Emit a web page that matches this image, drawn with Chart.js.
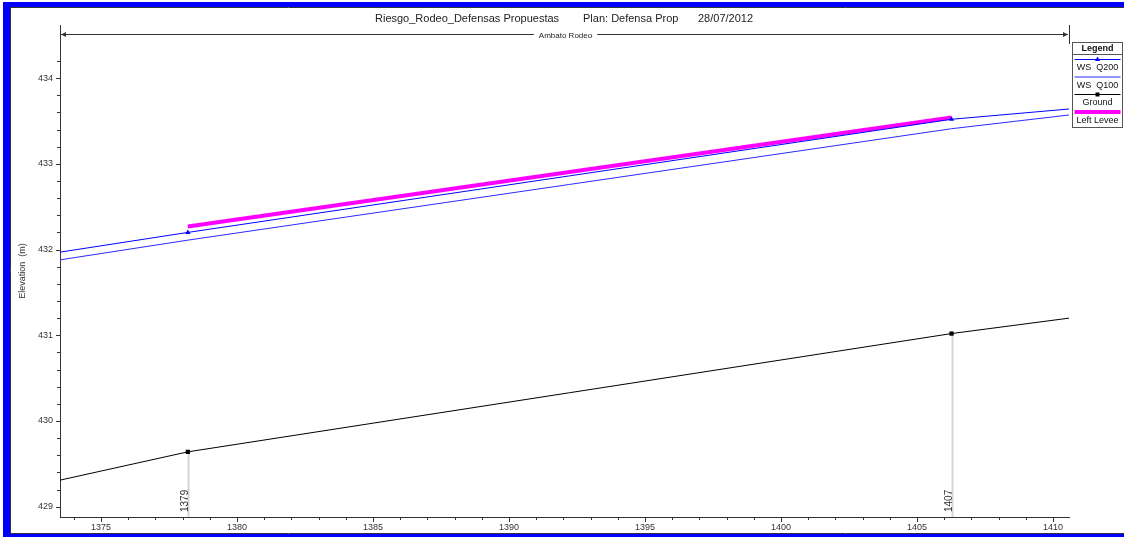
<!DOCTYPE html>
<html>
<head>
<meta charset="utf-8">
<title>Riesgo_Rodeo profile</title>
<script src="https://cdn.jsdelivr.net/npm/chart.js@4.4.0/dist/chart.umd.min.js"></script>
<style>
    html, body { margin: 0; padding: 0; background: #fff; }
    #wrap { position: relative; width: 1124px; height: 537px; }
</style>
</head>
<body>
<div id="wrap"><canvas id="profileChart" width="1124" height="537"></canvas></div>
<script>
// Profile data: main channel distance (m) vs elevation (m)
const stations = [1373.49, 1378.19, 1406.27, 1410.59];
const wsQ200 = [431.97, 432.20, 433.52, 433.64];
const wsQ100 = [431.88, 432.11, 433.41, 433.57];
const ground = [429.31, 429.64, 431.02, 431.20];
const leveeStations = [1378.19, 1406.27];
const leftLevee = [432.27, 433.54];

// Cross sections drawn in the profile (index into stations) and their river stations
const xsIndex = [1, 2];
const xsLabels = ['1379', '1407'];

// Axis ticks
const xMajorTicks = [1375, 1380, 1385, 1390, 1395, 1400, 1405, 1410];
const yMajorTicks = [429, 430, 431, 432, 433, 434];
const xRange = [1373.49, 1410.59];
const yRange = [428.88, 434.62];

const titleParts = ['Riesgo_Rodeo_Defensas Propuestas', 'Plan: Defensa Prop', '28/07/2012'];
const reachName = 'Ambato Rodeo';

const FONT = '"Liberation Sans", Arial, sans-serif';
const INK = '#333';

function toXY(xs, ys) {
    return xs.map((x, i) => ({ x: x, y: ys[i] }));
}

function markerRadius(r) {
    return ctx => xsIndex.includes(ctx.dataIndex) ? r : 0;
}

function isMajor(list, v) {
    return list.some(m => Math.abs(m - v) < 1e-6);
}

// Extra drawing: frame, title, reach arrow, tick marks, cross section lines, legend
const profileDecor = {
    id: 'profileDecor',
    beforeDatasetsDraw(chart) {
        const { ctx, chartArea } = chart;
        const xs = chart.scales.x, ys = chart.scales.y;
        ctx.save();
        xsIndex.forEach((idx, k) => {
            const px = Math.round(xs.getPixelForValue(stations[idx])) + 0.5;
            const py = ys.getPixelForValue(ground[idx]);
            ctx.strokeStyle = '#d4d4d4';
            ctx.lineWidth = 2;
            ctx.beginPath();
            ctx.moveTo(px, py);
            ctx.lineTo(px, chartArea.bottom);
            ctx.stroke();

            ctx.save();
            ctx.translate(px - 0.5, chartArea.bottom - 5);
            ctx.rotate(-Math.PI / 2);
            ctx.fillStyle = INK;
            ctx.font = '10px ' + FONT;
            ctx.textAlign = 'left';
            ctx.textBaseline = 'alphabetic';
            ctx.fillText(xsLabels[k], 0, 0);
            ctx.restore();
        });
        ctx.restore();
    },
    afterDraw(chart) {
        const { ctx, chartArea } = chart;
        const xs = chart.scales.x, ys = chart.scales.y;
        ctx.save();

        // tick marks
        ctx.strokeStyle = INK;
        ctx.lineWidth = 1;
        ctx.beginPath();
        xs.ticks.forEach(t => {
            const px = Math.round(xs.getPixelForValue(t.value)) + 0.5;
            const len = isMajor(xMajorTicks, t.value) ? 5 : 3;
            ctx.moveTo(px, chartArea.bottom);
            ctx.lineTo(px, chartArea.bottom + len);
        });
        ys.ticks.forEach(t => {
            const py = Math.round(ys.getPixelForValue(t.value)) + 0.5;
            const len = isMajor(yMajorTicks, t.value) ? 4 : 3;
            ctx.moveTo(chartArea.left, py);
            ctx.lineTo(chartArea.left - len, py);
        });
        ctx.stroke();

        // title
        ctx.fillStyle = '#222';
        ctx.font = '11px ' + FONT;
        ctx.textBaseline = 'middle';
        ctx.textAlign = 'left';
        ctx.fillText(titleParts[0], 375, 19);
        ctx.fillText(titleParts[1], 583, 19);
        ctx.fillText(titleParts[2], 698, 19);

        // reach arrow
        const ay = 34.5;
        const ax0 = chartArea.left + 1, ax1 = chartArea.right - 1;
        ctx.strokeStyle = INK;
        ctx.fillStyle = INK;
        ctx.beginPath();
        ctx.moveTo(ax0, ay);
        ctx.lineTo(ax1, ay);
        ctx.stroke();
        ctx.beginPath();
        ctx.moveTo(ax0, ay);
        ctx.lineTo(ax0 + 5, ay - 2.5);
        ctx.lineTo(ax0 + 5, ay + 2.5);
        ctx.closePath();
        ctx.fill();
        ctx.beginPath();
        ctx.moveTo(ax1, ay);
        ctx.lineTo(ax1 - 5, ay - 2.5);
        ctx.lineTo(ax1 - 5, ay + 2.5);
        ctx.closePath();
        ctx.fill();
        ctx.beginPath();
        ctx.moveTo(chartArea.right + 0.5, chartArea.top);
        ctx.lineTo(chartArea.right + 0.5, chartArea.top + 19);
        ctx.stroke();
        ctx.font = '8px ' + FONT;
        ctx.textAlign = 'center';
        const rw = ctx.measureText(reachName).width;
        const rx = (chartArea.left + chartArea.right) / 2 + 1;
        ctx.fillStyle = '#fff';
        ctx.fillRect(rx - rw / 2 - 5, ay - 5, rw + 10, 10);
        ctx.fillStyle = '#222';
        ctx.fillText(reachName, rx, ay + 1);

        // legend
        const lx = 1072.5, ly = 42.5, lw = 50, lh = 85;
        ctx.fillStyle = '#fff';
        ctx.fillRect(lx, ly, lw, lh);
        ctx.strokeStyle = '#555';
        ctx.lineWidth = 1;
        ctx.strokeRect(lx, ly, lw, lh);
        ctx.beginPath();
        ctx.moveTo(lx, ly + 12);
        ctx.lineTo(lx + lw, ly + 12);
        ctx.stroke();
        ctx.fillStyle = '#111';
        ctx.font = 'bold 9px ' + FONT;
        ctx.fillText('Legend', lx + lw / 2, ly + 6.5);
        const cx = lx + lw / 2;
        chart.data.datasets.forEach((ds, i) => {
            const sy = ly + 17 + i * 17.5;
            ctx.strokeStyle = ds.borderColor;
            ctx.lineWidth = ds.borderWidth;
            ctx.beginPath();
            ctx.moveTo(lx + 2, sy);
            ctx.lineTo(lx + lw - 2, sy);
            ctx.stroke();
            if (ds.pointStyle === 'triangle') {
                ctx.fillStyle = ds.borderColor;
                ctx.beginPath();
                ctx.moveTo(cx, sy - 3);
                ctx.lineTo(cx + 2.5, sy + 1.5);
                ctx.lineTo(cx - 2.5, sy + 1.5);
                ctx.closePath();
                ctx.fill();
            } else if (ds.pointStyle === 'rect') {
                ctx.fillStyle = ds.borderColor;
                ctx.fillRect(cx - 2, sy - 2, 4, 4);
            }
            ctx.fillStyle = '#111';
            ctx.font = '9px ' + FONT;
            ctx.fillText(ds.label, cx, sy + 8.5);
        });

        // blue page frame
        ctx.fillStyle = '#0000ff';
        ctx.fillRect(3, 2, 1121, 5);
        ctx.fillRect(3, 2, 7, 535);
        ctx.fillRect(3, 534, 1121, 3);
        ctx.strokeStyle = '#333';
        ctx.lineWidth = 1;
        ctx.beginPath();
        ctx.moveTo(10, 7.5);
        ctx.lineTo(1124, 7.5);
        ctx.moveTo(10.5, 7);
        ctx.lineTo(10.5, 534);
        ctx.moveTo(10, 533.5);
        ctx.lineTo(1124, 533.5);
        ctx.stroke();

        ctx.restore();
    }
};

function buildTicks(lo, hi, step) {
    const out = [];
    for (let v = lo; v <= hi + 1e-9; v += step) {
        out.push({ value: Math.round(v * 1000) / 1000 });
    }
    return out;
}

const profileChart = new Chart(document.getElementById('profileChart'), {
    type: 'scatter',
    data: {
        datasets: [
            {
                label: 'WS  Q200',
                data: toXY(stations, wsQ200),
                showLine: true,
                borderColor: '#0000ff',
                backgroundColor: '#0000ff',
                borderWidth: 1,
                pointStyle: 'triangle',
                pointRadius: markerRadius(3),
                pointBorderWidth: 0
            },
            {
                label: 'WS  Q100',
                data: toXY(stations, wsQ100),
                showLine: true,
                borderColor: '#2a2aff',
                backgroundColor: '#2a2aff',
                borderWidth: 1,
                pointStyle: false,
                pointRadius: 0
            },
            {
                label: 'Ground',
                data: toXY(stations, ground),
                showLine: true,
                borderColor: '#000000',
                backgroundColor: '#000000',
                borderWidth: 1,
                pointStyle: 'rect',
                pointRadius: markerRadius(3),
                pointBorderWidth: 0
            },
            {
                label: 'Left Levee',
                data: toXY(leveeStations, leftLevee),
                showLine: true,
                borderColor: '#ff00ff',
                backgroundColor: '#ff00ff',
                borderWidth: 4,
                borderCapStyle: 'butt',
                pointRadius: 0
            }
        ]
    },
    options: {
        responsive: false,
        animation: false,
        devicePixelRatio: 1,
        layout: { padding: { left: 0, top: 25, right: 55, bottom: 0 } },
        plugins: {
            legend: { display: false },
            title: { display: false },
            tooltip: { enabled: false }
        },
        scales: {
            x: {
                type: 'linear',
                min: xRange[0],
                max: xRange[1],
                afterBuildTicks: scale => { scale.ticks = buildTicks(1374, 1410, 1); },
                afterFit: scale => { scale.height = 20; },
                grid: { display: false, drawTicks: false },
                border: { display: true, color: INK, width: 1 },
                ticks: {
                    autoSkip: false,
                    maxRotation: 0,
                    padding: 5,
                    color: INK,
                    font: { family: FONT, size: 9 },
                    callback: v => isMajor(xMajorTicks, v) ? String(Math.round(v)) : ''
                }
            },
            y: {
                type: 'linear',
                min: yRange[0],
                max: yRange[1],
                afterBuildTicks: scale => { scale.ticks = buildTicks(429, 434.2, 0.2); },
                afterFit: scale => { scale.width = 60; },
                grid: { display: false, drawTicks: false },
                border: { display: true, color: INK, width: 1 },
                title: {
                    display: true,
                    text: 'Elevation  (m)',
                    color: INK,
                    font: { family: FONT, size: 9 },
                    padding: { top: 17, bottom: 0 }
                },
                ticks: {
                    autoSkip: false,
                    padding: 7,
                    color: INK,
                    font: { family: FONT, size: 9 },
                    callback: v => isMajor(yMajorTicks, v) ? String(Math.round(v)) : ''
                }
            }
        }
    },
    plugins: [profileDecor]
});
</script>
</body>
</html>
